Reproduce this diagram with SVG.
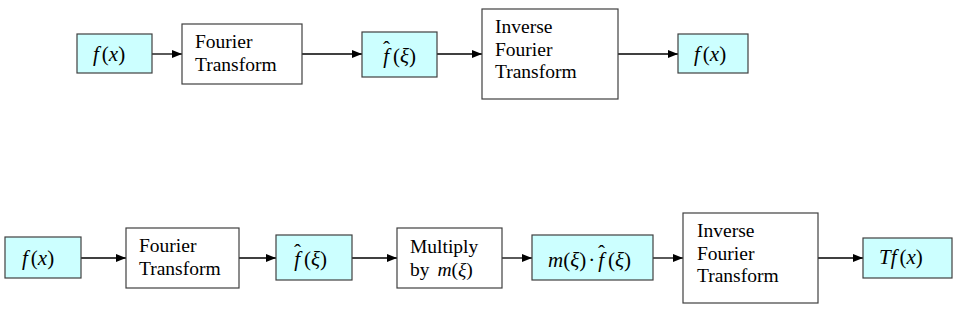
<svg xmlns="http://www.w3.org/2000/svg" width="960" height="322" viewBox="0 0 960 322">
<defs>
<marker id="ah" viewBox="0 0 10 8" refX="10" refY="4" markerWidth="10" markerHeight="8" markerUnits="userSpaceOnUse" orient="auto">
<path d="M0,0 L10,4 L0,8 Z" fill="#000"/>
</marker>
</defs>
<rect width="960" height="322" fill="#fff"/>
<g id="connectors" stroke="#000" stroke-width="1.3" fill="none" marker-end="url(#ah)">
<line x1="152" y1="54" x2="182" y2="54"/>
<line x1="302" y1="54" x2="362" y2="54"/>
<line x1="437" y1="54" x2="482" y2="54"/>
<line x1="618" y1="54" x2="678" y2="54"/>
<line x1="81" y1="258" x2="126" y2="258"/>
<line x1="239" y1="258" x2="276" y2="258"/>
<line x1="352" y1="258" x2="397" y2="258"/>
<line x1="502" y1="258" x2="532" y2="258"/>
<line x1="653" y1="258" x2="683" y2="258"/>
<line x1="818" y1="258" x2="863" y2="258"/>
</g>
<g id="nodes" stroke-width="1.2">
<g id="n1">
<rect fill="#ccffff" stroke="#404040" x="77" y="34" width="75" height="39"/>
<text font-family="Liberation Serif" style="font-family:'Liberation Serif'" font-size="21" fill="#000" x="93" y="61"><tspan font-style="italic">f</tspan><tspan dx="3">(</tspan><tspan font-style="italic">x</tspan>)</text>
</g>
<g id="n2">
<rect fill="#ffffff" stroke="#404040" x="182" y="24" width="120" height="60"/>
<text font-family="Liberation Serif" style="font-family:'Liberation Serif'" font-size="19.5" fill="#000" x="195" y="48">Fourier</text>
<text font-family="Liberation Serif" style="font-family:'Liberation Serif'" font-size="19.5" fill="#000" x="195" y="71">Transform</text>
</g>
<g id="n3">
<rect fill="#ccffff" stroke="#404040" x="362" y="32" width="75" height="45"/>
<text font-family="Liberation Serif" style="font-family:'Liberation Serif'" font-size="21" fill="#000" x="383" y="63"><tspan font-style="italic">f</tspan><tspan dx="-6" dy="-7">ˆ</tspan><tspan dx="3" dy="7">(</tspan><tspan font-style="italic">ξ</tspan>)</text>
</g>
<g id="n4">
<rect fill="#ffffff" stroke="#404040" x="482" y="9" width="136" height="90"/>
<text font-family="Liberation Serif" style="font-family:'Liberation Serif'" font-size="19.5" fill="#000" x="495" y="33">Inverse</text>
<text font-family="Liberation Serif" style="font-family:'Liberation Serif'" font-size="19.5" fill="#000" x="495" y="56">Fourier</text>
<text font-family="Liberation Serif" style="font-family:'Liberation Serif'" font-size="19.5" fill="#000" x="495" y="78">Transform</text>
</g>
<g id="n5">
<rect fill="#ccffff" stroke="#404040" x="678" y="34" width="70" height="39"/>
<text font-family="Liberation Serif" style="font-family:'Liberation Serif'" font-size="21" fill="#000" x="694" y="61"><tspan font-style="italic">f</tspan><tspan dx="3">(</tspan><tspan font-style="italic">x</tspan>)</text>
</g>
<g id="b1">
<rect fill="#ccffff" stroke="#404040" x="5" y="237" width="76" height="41"/>
<text font-family="Liberation Serif" style="font-family:'Liberation Serif'" font-size="21" fill="#000" x="22" y="265"><tspan font-style="italic">f</tspan><tspan dx="3">(</tspan><tspan font-style="italic">x</tspan>)</text>
</g>
<g id="b2">
<rect fill="#ffffff" stroke="#404040" x="126" y="228" width="113" height="60"/>
<text font-family="Liberation Serif" style="font-family:'Liberation Serif'" font-size="19.5" fill="#000" x="139" y="252">Fourier</text>
<text font-family="Liberation Serif" style="font-family:'Liberation Serif'" font-size="19.5" fill="#000" x="139" y="275">Transform</text>
</g>
<g id="b3">
<rect fill="#ccffff" stroke="#404040" x="276" y="235" width="76" height="45"/>
<text font-family="Liberation Serif" style="font-family:'Liberation Serif'" font-size="21" fill="#000" x="294" y="266"><tspan font-style="italic">f</tspan><tspan dx="-6" dy="-7">ˆ</tspan><tspan dx="3" dy="7">(</tspan><tspan font-style="italic">ξ</tspan>)</text>
</g>
<g id="b4">
<rect fill="#ffffff" stroke="#404040" x="397" y="228" width="105" height="60"/>
<text font-family="Liberation Serif" style="font-family:'Liberation Serif'" font-size="19.5" fill="#000" x="410" y="253">Multiply</text>
<text font-family="Liberation Serif" style="font-family:'Liberation Serif'" font-size="19.5" fill="#000" x="410" y="276">by <tspan font-style="italic" dx="3">m</tspan>(<tspan font-style="italic">ξ</tspan>)</text>
</g>
<g id="b5">
<rect fill="#ccffff" stroke="#404040" x="532" y="235" width="121" height="45"/>
<text font-family="Liberation Serif" style="font-family:'Liberation Serif'" font-size="21" fill="#000" x="548" y="267"><tspan font-style="italic">m</tspan>(<tspan font-style="italic">ξ</tspan>)<tspan dx="2">·</tspan><tspan font-style="italic" dx="3">f</tspan><tspan dx="-6" dy="-7">ˆ</tspan><tspan dx="3" dy="7">(</tspan><tspan font-style="italic">ξ</tspan>)</text>
</g>
<g id="b6">
<rect fill="#ffffff" stroke="#404040" x="683" y="213" width="135" height="90"/>
<text font-family="Liberation Serif" style="font-family:'Liberation Serif'" font-size="19.5" fill="#000" x="697" y="237">Inverse</text>
<text font-family="Liberation Serif" style="font-family:'Liberation Serif'" font-size="19.5" fill="#000" x="697" y="260">Fourier</text>
<text font-family="Liberation Serif" style="font-family:'Liberation Serif'" font-size="19.5" fill="#000" x="697" y="282">Transform</text>
</g>
<g id="b7">
<rect fill="#ccffff" stroke="#404040" x="863" y="238" width="89" height="40"/>
<text font-family="Liberation Serif" style="font-family:'Liberation Serif'" font-size="21" fill="#000" x="879" y="264"><tspan font-style="italic">Tf</tspan><tspan dx="3">(</tspan><tspan font-style="italic">x</tspan>)</text>
</g>
</g>
</svg>
